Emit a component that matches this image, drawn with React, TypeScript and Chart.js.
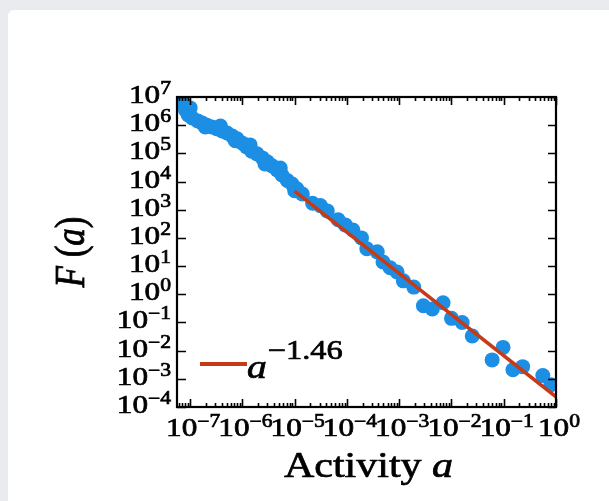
import React, { useEffect, useRef } from "react";
import { Chart, registerables } from "chart.js";

Chart.register(...registerables);

// Activity distribution F(a) measured on log-binned activity values
const activity = [
  7.4e-8, 8.1e-8, 9.2e-8, 1.0e-7, 1.1e-7, 1.4e-7, 1.7e-7, 1.95e-7, 2.1e-7, 2.6e-7,
  3.3e-7, 3.8e-7, 4.1e-7, 5.1e-7, 6.4e-7, 7.3e-7, 7.9e-7, 1.0e-6, 1.2e-6, 1.4e-6,
  1.5e-6, 1.9e-6, 2.4e-6, 2.7e-6, 3.0e-6, 3.7e-6, 4.6e-6, 5.3e-6, 5.7e-6, 7.2e-6,
  8.9e-6, 1.0e-5, 1.1e-5, 1.4e-5, 2.2e-5, 3.1e-5, 4.2e-5, 6.8e-5, 9.3e-5, 1.3e-4,
  1.9e-4, 2.4e-4, 3.8e-4, 4.9e-4, 6.7e-4, 9.1e-4, 1.2e-3, 1.9e-3, 2.9e-3, 4.3e-3,
  6.9e-3, 1.0e-2, 1.6e-2, 2.5e-2, 6.0e-2, 9.7e-2, 0.15, 0.23, 0.56, 0.8,
];
const frequency = [
  6.2e6, 3.5e6, 2.3e6, 4.1e6, 1.8e6, 1.4e6, 1.2e6, 8.7e5, 1.0e6, 8.7e5,
  7.4e5, 9.3e5, 6.2e5, 5.3e5, 4.1e5, 2.8e5, 3.3e5, 2.3e5, 1.7e5, 2.0e5,
  1.2e5, 9.6e4, 6.9e4, 4.2e4, 5.0e4, 3.6e4, 2.6e4, 3.0e4, 1.7e4, 1.1e4,
  8.2e3, 4.7e3, 5.5e3, 3.6e3, 1.7e3, 1.4e3, 910, 440, 290, 190,
  100, 41, 32, 14, 8.7, 6.2, 3.0, 1.8, 0.39, 0.3,
  0.5, 0.14, 0.1, 0.033, 4.7e-3, 1.3e-2, 2.1e-3, 2.7e-3, 1.3e-3, 6.2e-4,
];

// Power-law fit F(a) = C * a^k
const FIT_EXPONENT = -1.46;
const FIT_PREFACTOR = 2.3e-4;
const fitActivity = [1e-5, 1];

// Axis ranges and decade tick labels (exponents of ten)
const X_MIN = 5.6e-8;
const X_MAX = 1;
const Y_MIN = 1e-4;
const Y_MAX = 1e7;
const xTickExponents = [-7, -6, -5, -4, -3, -2, -1, 0];
const yTickExponents = [7, 6, 5, 4, 3, 2, 1, 0, -1, -2, -3, -4];

const BLUE = "#1c8fe4";
const RED = "#c63a17";
const SERIF = '"Liberation Serif", "Times New Roman", serif';
const STRETCH = 1.2;

function textWidth(ctx: CanvasRenderingContext2D, s: string, font: string) {
  ctx.font = font;
  return ctx.measureText(s).width * STRETCH;
}

// fill text widened horizontally, with a thin outline to give heavier strokes
function drawStretched(ctx: CanvasRenderingContext2D, s: string, x: number, y: number, font: string) {
  ctx.save();
  ctx.font = font;
  ctx.textAlign = "left";
  ctx.textBaseline = "alphabetic";
  ctx.translate(x, y);
  ctx.scale(STRETCH, 1);
  ctx.fillText(s, 0, 0);
  ctx.lineWidth = 0.7;
  ctx.strokeStyle = ctx.fillStyle as string;
  ctx.strokeText(s, 0, 0);
  ctx.restore();
}

const baseFont = `26px ${SERIF}`;
const supFont = `18px ${SERIF}`;

function expText(e: number) {
  return e < 0 ? "\u2212" + Math.abs(e) : String(e);
}

function powerWidth(ctx: CanvasRenderingContext2D, e: number) {
  return textWidth(ctx, "10", baseFont) + textWidth(ctx, expText(e), supFont);
}

function drawPower(ctx: CanvasRenderingContext2D, e: number, x: number, baseline: number) {
  const w = textWidth(ctx, "10", baseFont);
  drawStretched(ctx, "10", x, baseline, baseFont);
  drawStretched(ctx, expText(e), x + w, baseline - 9, supFont);
}

const framePlugin = {
  id: "frameTicks",
  afterDraw(chart: any) {
    const ctx: CanvasRenderingContext2D = chart.ctx;
    const { left, right, top, bottom } = chart.chartArea;
    const xs = chart.scales.x;
    const ys = chart.scales.y;
    ctx.save();
    ctx.fillStyle = "#000";
    ctx.strokeStyle = "#000";

    // tick marks pointing inward on all four sides
    ctx.lineWidth = 1.6;
    ctx.beginPath();
    for (let d = -8; d <= 0; d++) {
      for (let m = 1; m <= 9; m++) {
        const v = m * Math.pow(10, d);
        if (v < X_MIN || v > X_MAX * 1.0001) continue;
        const px = Math.round(xs.getPixelForValue(v)) + 0.5;
        const len = m === 1 ? 8 : 4;
        ctx.moveTo(px, bottom);
        ctx.lineTo(px, bottom - len);
        ctx.moveTo(px, top);
        ctx.lineTo(px, top + len);
      }
    }
    for (const e of yTickExponents) {
      const py = Math.round(ys.getPixelForValue(Math.pow(10, e))) + 0.5;
      ctx.moveTo(left, py);
      ctx.lineTo(left + 9, py);
      ctx.moveTo(right, py);
      ctx.lineTo(right - 8, py);
    }
    ctx.stroke();

    // frame
    ctx.lineWidth = 2.2;
    ctx.strokeRect(left, top, right - left, bottom - top);

    // y tick labels
    for (const e of yTickExponents) {
      const py = ys.getPixelForValue(Math.pow(10, e));
      const w = powerWidth(ctx, e);
      drawPower(ctx, e, left - 6 - w, py + 6);
    }
    // x tick labels
    for (const e of xTickExponents) {
      const px = xs.getPixelForValue(Math.pow(10, e));
      const w = powerWidth(ctx, e);
      drawPower(ctx, e, px - w / 2 + 3, bottom + 29);
    }

    // x axis title
    const tFont = `35px ${SERIF}`;
    const iFont = `italic 35px ${SERIF}`;
    const t1 = "Activity ";
    const w1 = textWidth(ctx, t1, tFont);
    const w2 = textWidth(ctx, "a", iFont);
    const cx = (left + right) / 2 + 2;
    drawStretched(ctx, t1, cx - (w1 + w2) / 2, bottom + 70, tFont);
    drawStretched(ctx, "a", cx - (w1 + w2) / 2 + w1, bottom + 70, iFont);

    // y axis title, rotated
    ctx.save();
    ctx.translate(left - 93, (top + bottom) / 2);
    ctx.rotate(-Math.PI / 2);
    ctx.scale(1, STRETCH);
    const yF = `italic 35px ${SERIF}`;
    const yU = `35px ${SERIF}`;
    const parts: [string, string][] = [["F", yF], [" (", yU], ["a", yF], [")", yU]];
    let total = 0;
    for (const [s, f] of parts) {
      ctx.font = f;
      total += ctx.measureText(s).width;
    }
    let x0 = -total / 2;
    ctx.textBaseline = "alphabetic";
    ctx.lineWidth = 0.7;
    for (const [s, f] of parts) {
      ctx.font = f;
      ctx.fillText(s, x0, 0);
      ctx.strokeText(s, x0, 0);
      x0 += ctx.measureText(s).width;
    }
    ctx.restore();

    // legend entry for the fitted line
    ctx.strokeStyle = RED;
    ctx.lineWidth = 4;
    ctx.beginPath();
    ctx.moveTo(left + 23, bottom - 43);
    ctx.lineTo(left + 70, bottom - 43);
    ctx.stroke();
    const aFont = `italic 33px ${SERIF}`;
    drawStretched(ctx, "a", left + 70, bottom - 29, aFont);
    const aw = textWidth(ctx, "a", aFont);
    drawStretched(ctx, "\u2212" + Math.abs(FIT_EXPONENT).toFixed(2), left + 70 + aw + 1, bottom - 48, `27px ${SERIF}`);

    ctx.restore();
  },
};

export default function App() {
  const canvasRef = useRef<HTMLCanvasElement | null>(null);

  useEffect(() => {
    const canvas = canvasRef.current;
    if (!canvas) return;
    const points = activity.map((a, i) => ({ x: a, y: frequency[i] }));
    const fit = fitActivity.map((a) => ({ x: a, y: FIT_PREFACTOR * Math.pow(a, FIT_EXPONENT) }));
    const chart = new Chart(canvas, {
      type: "scatter",
      data: {
        datasets: [
          {
            type: "line",
            data: fit,
            borderColor: RED,
            borderWidth: 3.5,
            pointRadius: 0,
            fill: false,
            order: 0,
            clip: 0,
          } as any,
          {
            data: points,
            backgroundColor: BLUE,
            borderWidth: 0,
            pointRadius: 7.5,
            pointHoverRadius: 7.5,
            order: 1,
            clip: 0,
          } as any,
        ],
      },
      options: {
        animation: false,
        responsive: false,
        devicePixelRatio: 1,
        layout: { padding: { left: 177, top: 97, right: 53, bottom: 94 } },
        plugins: { legend: { display: false }, tooltip: { enabled: false } },
        scales: {
          x: { type: "logarithmic", min: X_MIN, max: X_MAX, display: false },
          y: { type: "logarithmic", min: Y_MIN, max: Y_MAX, display: false },
        },
      },
      plugins: [framePlugin],
    });
    return () => chart.destroy();
  }, []);

  return (
    <div style={{ position: "fixed", left: 0, top: 0, width: 609, height: 501, background: "#e9ebee", overflow: "hidden" }}>
      <div style={{ position: "absolute", left: 8, top: 10, right: 0, bottom: 0, background: "#ffffff", borderTopLeftRadius: 6 }} />
      <canvas ref={canvasRef} width={609} height={501} style={{ position: "absolute", left: 0, top: 0, width: 609, height: 501 }} />
    </div>
  );
}
